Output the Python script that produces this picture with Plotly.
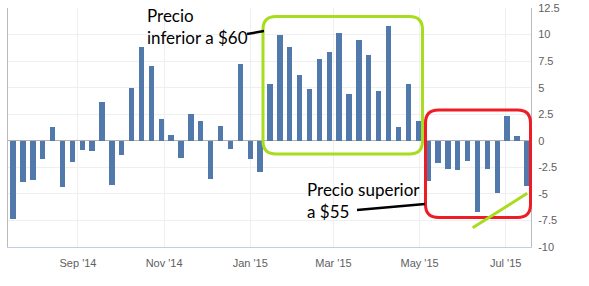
import plotly.graph_objects as go
import pandas as pd

# ---- data ----
start_date = "2014-07-17"
weekly_change = [
    -7.4, -3.9, -3.67, -1.71, 1.34, -4.36, -2.0, -0.87, -0.97, 3.61,
    -4.2, -1.31, 4.95, 8.79, 7.04, 2.06, 0.5, -1.65, 2.55, 1.87,
    -3.58, 1.43, -0.78, 7.2, -1.74, -2.96, 5.3, 9.94, 8.79, 6.23,
    4.86, 7.66, 8.35, 10.19, 4.42, 9.47, 8.1, 4.7, 10.78, 1.31,
    5.3, 1.9, -3.83, -2.06, -2.62, -2.71, -1.93, -6.7, -2.62, -4.89,
    2.34, 0.44, -4.27,
]
dates = pd.date_range(start_date, periods=len(weekly_change), freq="7D")

x_tickvals = ["2014-09-01", "2014-11-01", "2015-01-01", "2015-03-01", "2015-05-01", "2015-07-01"]
x_ticktext = ["Sep '14", "Nov '14", "Jan '15", "Mar '15", "May '15", "Jul '15"]
y_tickvals = [12.5, 10, 7.5, 5, 2.5, 0, -2.5, -5, -7.5, -10]
y_ticktext = ["12.5", "10", "7.5", "5", "2.5", "0", "-2.5", "-5", "-7.5", "-10"]

label_low = "Precio<br>inferior a $60"
label_high = "Precio superior<br>a $55"

# ---- layout geometry (pixels) ----
W_FIG, H_FIG = 589, 286
M_L, M_R, M_T, M_B = 8, 58, 8, 39
PW = W_FIG - M_L - M_R
PH = H_FIG - M_T - M_B


def px(xp, yp):
    return (xp - M_L) / PW, (H_FIG - M_B - yp) / PH


def rrect(x0, y0, x1, y1, r):
    pts = [
        ("M", [(x0 + r, y0)]),
        ("L", [(x1 - r, y0)]),
        ("Q", [(x1, y0), (x1, y0 + r)]),
        ("L", [(x1, y1 - r)]),
        ("Q", [(x1, y1), (x1 - r, y1)]),
        ("L", [(x0 + r, y1)]),
        ("Q", [(x0, y1), (x0, y1 - r)]),
        ("L", [(x0, y0 + r)]),
        ("Q", [(x0, y0), (x0 + r, y0)]),
    ]
    s = ""
    for cmd, ps in pts:
        s += cmd + " " + " ".join("%.5f,%.5f" % px(a, b) for a, b in ps) + " "
    return s + "Z"


def line(x0, y0, x1, y1, color, width):
    a0, b0 = px(x0, y0)
    a1, b1 = px(x1, y1)
    return dict(type="line", xref="paper", yref="paper", x0=a0, y0=b0, x1=a1, y1=b1,
                line=dict(color=color, width=width))


fig = go.Figure()
fig.add_trace(go.Bar(
    x=dates, y=weekly_change,
    width=3.8 * 86400000,
    marker=dict(color="#5279AC", line=dict(width=0)),
    hoverinfo="x+y",
))

GREEN = "#A8DC1E"
RED = "#EE1C25"
shapes = [
    dict(type="path", xref="paper", yref="paper", path=rrect(263, 16.5, 422.5, 154, 13),
         line=dict(color=GREEN, width=3)),
    dict(type="path", xref="paper", yref="paper", path=rrect(425.5, 110, 530.5, 217.5, 13),
         line=dict(color=RED, width=3)),
    line(472.7, 227.7, 527.3, 193.3, GREEN, 3),
    line(247, 34, 264, 31, "black", 2.5),
    line(357, 210, 425, 204, "black", 2.5),
]

ax_font = dict(family="Liberation Sans, Arial, sans-serif", size=11, color="#606060")
ann_font = dict(family="Lato, Liberation Sans, sans-serif", size=17, color="black")

a1x, a1y = px(145, 3)
a2x, a2y = px(305, 177)

fig.update_layout(
    template="none",
    width=W_FIG, height=H_FIG,
    margin=dict(l=M_L, r=M_R, t=M_T, b=M_B, pad=0),
    plot_bgcolor="white", paper_bgcolor="white",
    showlegend=False,
    bargap=0,
    shapes=shapes,
    annotations=[
        dict(text=label_low, xref="paper", yref="paper", x=a1x, y=a1y, xanchor="left",
             yanchor="top", showarrow=False, align="left", font=ann_font),
        dict(text=label_high, xref="paper", yref="paper", x=a2x, y=a2y, xanchor="left",
             yanchor="top", showarrow=False, align="left", font=ann_font),
    ],
    xaxis=dict(
        type="date",
        range=["2014-07-13 10:00", "2015-07-18 22:00"],
        tickvals=x_tickvals, ticktext=x_ticktext,
        showgrid=True, gridcolor="#EFEFEF", gridwidth=1,
        showline=True, linecolor="#C0D0E0", linewidth=1,
        ticks="", tickfont=ax_font, ticklabelstandoff=6,
        zeroline=False, fixedrange=True, automargin=False,
    ),
    yaxis=dict(
        side="right",
        range=[-10, 12.5],
        tickvals=y_tickvals, ticktext=y_ticktext,
        showgrid=True, gridcolor="#EFEFEF", gridwidth=1,
        showline=True, linecolor="#BBBBBB", linewidth=1, mirror=True,
        zeroline=True, zerolinecolor="#B0B0B0", zerolinewidth=1,
        ticks="", tickfont=ax_font, ticklabelstandoff=4,
        fixedrange=True, automargin=False,
    ),
)

fig.write_html("out.html")
